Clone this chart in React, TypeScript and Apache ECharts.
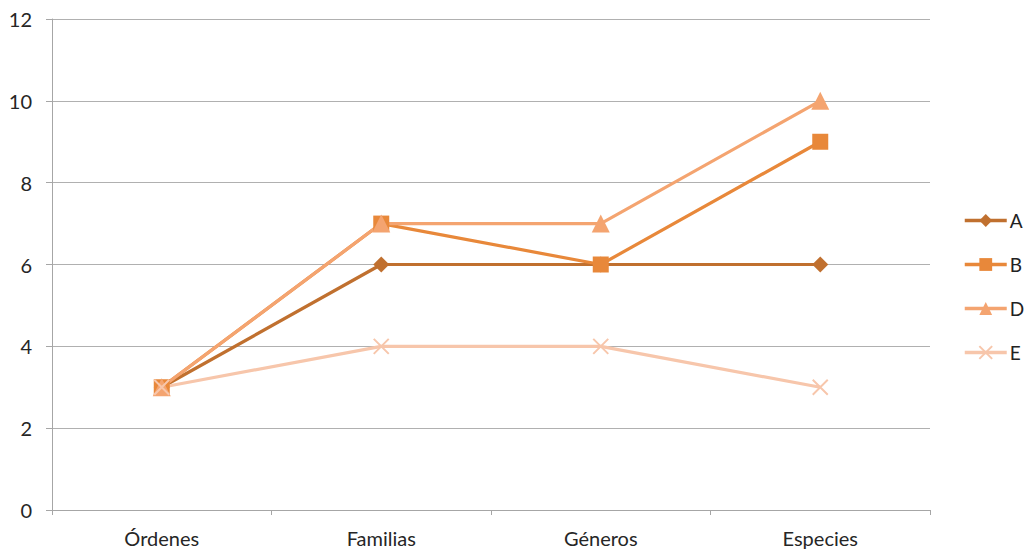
import React, { useEffect, useRef } from "react";
import * as echarts from "echarts";

const categories = ["Órdenes", "Familias", "Géneros", "Especies"];
const seriesA = [3, 6, 6, 6];
const seriesB = [3, 7, 6, 9];
const seriesD = [3, 7, 7, 10];
const seriesE = [3, 4, 4, 3];

const FONT = "Lato, 'Open Sans', sans-serif";
const CROSS = "path://M0,0L10,10M10,0L0,10";

export default function App() {
  const ref = useRef<HTMLDivElement>(null);

  useEffect(() => {
    if (!ref.current) return;
    const chart = echarts.init(ref.current, undefined, { renderer: "svg" });

    // Later series sit on top of earlier ones
    const line = (name: string, data: number[], color: string, symbol: string, size: number) => ({
      name,
      type: "line",
      data,
      symbol,
      symbolSize: size,
      lineStyle: { color, width: 3.2 },
      itemStyle: { color },
    });

    chart.setOption({
      animation: false,
      textStyle: { fontFamily: FONT },
      grid: { left: 52, right: 97, top: 19, bottom: 41 },
      legend: {
        orient: "vertical",
        left: 963,
        top: 211,
        padding: 0,
        itemWidth: 42,
        itemHeight: 16,
        itemGap: 25,
        lineStyle: { width: 3.5 },
        textStyle: { fontSize: 19, color: "#222", fontFamily: FONT, padding: [0, 0, 0, -2] },
        data: ["A", "B", "D", "E"],
      },
      xAxis: {
        type: "category",
        data: categories,
        boundaryGap: true,
        axisLine: { lineStyle: { color: "#a6a6a6", width: 1 } },
        axisTick: { show: true, length: 5, lineStyle: { color: "#a6a6a6" } },
        axisLabel: { fontSize: 20, color: "#262626", margin: 18, fontFamily: FONT },
      },
      yAxis: {
        type: "value",
        min: 0,
        max: 12,
        interval: 2,
        axisLine: { show: true, lineStyle: { color: "#a6a6a6", width: 1 } },
        axisTick: { show: true, length: 6, lineStyle: { color: "#a6a6a6" } },
        splitLine: { lineStyle: { color: "#b0b0b0", width: 1 } },
        axisLabel: { fontSize: 20, color: "#262626", margin: 20, fontFamily: FONT },
      },
      series: [
        line("A", seriesA, "#c0702f", "diamond", 16),
        line("B", seriesB, "#e8883a", "rect", 16),
        line("D", seriesD, "#f4a470", "triangle", 18),
        {
          ...line("E", seriesE, "#f7c6ab", CROSS, 15),
          itemStyle: { color: "#f7c6ab", borderColor: "#f7c6ab", borderWidth: 2 },
        },
      ],
    });

    return () => chart.dispose();
  }, []);

  return <div ref={ref} style={{ width: 1027, height: 551, position: "absolute", left: 0, top: 0 }} />;
}
